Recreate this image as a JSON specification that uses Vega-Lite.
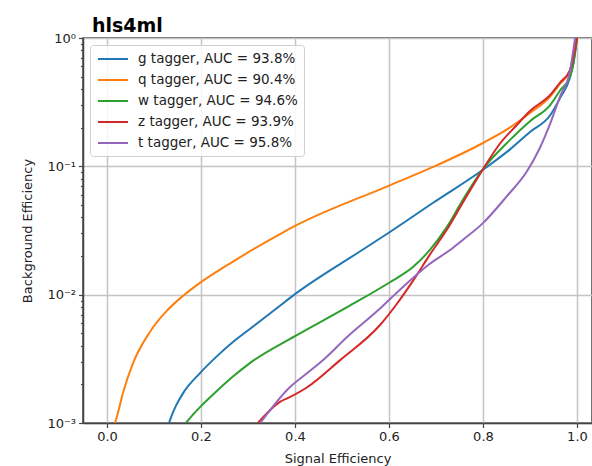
{
  "$schema": "https://vega.github.io/schema/vega-lite/v6.json",
  "autosize": {"type": "none"},
  "padding": {"left": 83, "top": 38, "right": 0, "bottom": 43},
  "width": 509,
  "height": 385,
  "background": "white",
  "title": {"text": "hls4ml", "anchor": "start", "frame": "group", "dx": 9, "dy": 27, "fontSize": 19, "fontWeight": "bold", "font": "DejaVu Sans", "color": "#000000", "baseline": "alphabetic", "offset": 8},
  "config": {
    "view": {"stroke": "#444444", "strokeWidth": 1.5},
    "axis": {"labelFont": "DejaVu Sans", "titleFont": "DejaVu Sans", "labelFontSize": 13, "titleFontSize": 13, "titleFontWeight": "normal", "labelColor": "#222222", "titleColor": "#222222", "domainColor": "#444444", "domainWidth": 1.5, "tickColor": "#444444", "tickWidth": 1.2, "gridColor": "#c4c4c4", "gridWidth": 1.5},
    "legend": {"orient": "top-left", "offset": 7, "fillColor": "rgba(255,255,255,0.85)", "strokeColor": "#d0d0d0", "cornerRadius": 3, "padding": 6, "labelFontSize": 13.5, "labelFont": "DejaVu Sans", "labelColor": "#222222", "symbolType": "M-0.86,0H3.43", "symbolSize": 196, "symbolStrokeWidth": 2, "rowPadding": 6, "labelOffset": 26}
  },
  "data": {"values": [
    {"tagger": "g tagger, AUC = 93.8%", "x": 0.132, "y": 0.001},
    {"tagger": "g tagger, AUC = 93.8%", "x": 0.14, "y": 0.0012},
    {"tagger": "g tagger, AUC = 93.8%", "x": 0.148, "y": 0.00139},
    {"tagger": "g tagger, AUC = 93.8%", "x": 0.162, "y": 0.00171},
    {"tagger": "g tagger, AUC = 93.8%", "x": 0.198, "y": 0.00245},
    {"tagger": "g tagger, AUC = 93.8%", "x": 0.232, "y": 0.00326},
    {"tagger": "g tagger, AUC = 93.8%", "x": 0.268, "y": 0.00427},
    {"tagger": "g tagger, AUC = 93.8%", "x": 0.304, "y": 0.0054},
    {"tagger": "g tagger, AUC = 93.8%", "x": 0.368, "y": 0.0082},
    {"tagger": "g tagger, AUC = 93.8%", "x": 0.4, "y": 0.0101},
    {"tagger": "g tagger, AUC = 93.8%", "x": 0.538, "y": 0.0217},
    {"tagger": "g tagger, AUC = 93.8%", "x": 0.602, "y": 0.0308},
    {"tagger": "g tagger, AUC = 93.8%", "x": 0.694, "y": 0.052},
    {"tagger": "g tagger, AUC = 93.8%", "x": 0.8, "y": 0.094},
    {"tagger": "g tagger, AUC = 93.8%", "x": 0.857, "y": 0.135},
    {"tagger": "g tagger, AUC = 93.8%", "x": 0.9, "y": 0.185},
    {"tagger": "g tagger, AUC = 93.8%", "x": 0.943, "y": 0.25},
    {"tagger": "g tagger, AUC = 93.8%", "x": 0.964, "y": 0.34},
    {"tagger": "g tagger, AUC = 93.8%", "x": 0.985, "y": 0.49},
    {"tagger": "g tagger, AUC = 93.8%", "x": 0.993, "y": 0.65},
    {"tagger": "g tagger, AUC = 93.8%", "x": 1.0, "y": 1.0},
    {"tagger": "q tagger, AUC = 90.4%", "x": 0.017, "y": 0.001},
    {"tagger": "q tagger, AUC = 90.4%", "x": 0.022, "y": 0.00115},
    {"tagger": "q tagger, AUC = 90.4%", "x": 0.034, "y": 0.00171},
    {"tagger": "q tagger, AUC = 90.4%", "x": 0.055, "y": 0.0029},
    {"tagger": "q tagger, AUC = 90.4%", "x": 0.091, "y": 0.0051},
    {"tagger": "q tagger, AUC = 90.4%", "x": 0.126, "y": 0.0074},
    {"tagger": "q tagger, AUC = 90.4%", "x": 0.162, "y": 0.0098},
    {"tagger": "q tagger, AUC = 90.4%", "x": 0.2, "y": 0.01253},
    {"tagger": "q tagger, AUC = 90.4%", "x": 0.268, "y": 0.0181},
    {"tagger": "q tagger, AUC = 90.4%", "x": 0.374, "y": 0.0305},
    {"tagger": "q tagger, AUC = 90.4%", "x": 0.4, "y": 0.0343},
    {"tagger": "q tagger, AUC = 90.4%", "x": 0.598, "y": 0.0702},
    {"tagger": "q tagger, AUC = 90.4%", "x": 0.694, "y": 0.0989},
    {"tagger": "q tagger, AUC = 90.4%", "x": 0.8, "y": 0.152},
    {"tagger": "q tagger, AUC = 90.4%", "x": 0.857, "y": 0.2},
    {"tagger": "q tagger, AUC = 90.4%", "x": 0.9, "y": 0.26},
    {"tagger": "q tagger, AUC = 90.4%", "x": 0.943, "y": 0.35},
    {"tagger": "q tagger, AUC = 90.4%", "x": 0.964, "y": 0.44},
    {"tagger": "q tagger, AUC = 90.4%", "x": 0.985, "y": 0.56},
    {"tagger": "q tagger, AUC = 90.4%", "x": 0.993, "y": 0.7},
    {"tagger": "q tagger, AUC = 90.4%", "x": 1.0, "y": 1.0},
    {"tagger": "w tagger, AUC = 94.6%", "x": 0.168, "y": 0.001},
    {"tagger": "w tagger, AUC = 94.6%", "x": 0.182, "y": 0.00115},
    {"tagger": "w tagger, AUC = 94.6%", "x": 0.198, "y": 0.00133},
    {"tagger": "w tagger, AUC = 94.6%", "x": 0.232, "y": 0.00175},
    {"tagger": "w tagger, AUC = 94.6%", "x": 0.268, "y": 0.0023},
    {"tagger": "w tagger, AUC = 94.6%", "x": 0.304, "y": 0.00293},
    {"tagger": "w tagger, AUC = 94.6%", "x": 0.4, "y": 0.00475},
    {"tagger": "w tagger, AUC = 94.6%", "x": 0.511, "y": 0.008},
    {"tagger": "w tagger, AUC = 94.6%", "x": 0.602, "y": 0.0125},
    {"tagger": "w tagger, AUC = 94.6%", "x": 0.651, "y": 0.0164},
    {"tagger": "w tagger, AUC = 94.6%", "x": 0.687, "y": 0.0223},
    {"tagger": "w tagger, AUC = 94.6%", "x": 0.723, "y": 0.0336},
    {"tagger": "w tagger, AUC = 94.6%", "x": 0.757, "y": 0.0546},
    {"tagger": "w tagger, AUC = 94.6%", "x": 0.8, "y": 0.095},
    {"tagger": "w tagger, AUC = 94.6%", "x": 0.857, "y": 0.16},
    {"tagger": "w tagger, AUC = 94.6%", "x": 0.9, "y": 0.225},
    {"tagger": "w tagger, AUC = 94.6%", "x": 0.943, "y": 0.3},
    {"tagger": "w tagger, AUC = 94.6%", "x": 0.964, "y": 0.39},
    {"tagger": "w tagger, AUC = 94.6%", "x": 0.985, "y": 0.5},
    {"tagger": "w tagger, AUC = 94.6%", "x": 0.993, "y": 0.65},
    {"tagger": "w tagger, AUC = 94.6%", "x": 1.0, "y": 1.0},
    {"tagger": "z tagger, AUC = 93.9%", "x": 0.321, "y": 0.001},
    {"tagger": "z tagger, AUC = 93.9%", "x": 0.343, "y": 0.00122},
    {"tagger": "z tagger, AUC = 93.9%", "x": 0.368, "y": 0.00146},
    {"tagger": "z tagger, AUC = 93.9%", "x": 0.389, "y": 0.00159},
    {"tagger": "z tagger, AUC = 93.9%", "x": 0.426, "y": 0.0019},
    {"tagger": "z tagger, AUC = 93.9%", "x": 0.496, "y": 0.00309},
    {"tagger": "z tagger, AUC = 93.9%", "x": 0.581, "y": 0.0058},
    {"tagger": "z tagger, AUC = 93.9%", "x": 0.617, "y": 0.0085},
    {"tagger": "z tagger, AUC = 93.9%", "x": 0.651, "y": 0.0128},
    {"tagger": "z tagger, AUC = 93.9%", "x": 0.687, "y": 0.0205},
    {"tagger": "z tagger, AUC = 93.9%", "x": 0.723, "y": 0.032},
    {"tagger": "z tagger, AUC = 93.9%", "x": 0.757, "y": 0.052},
    {"tagger": "z tagger, AUC = 93.9%", "x": 0.8, "y": 0.095},
    {"tagger": "z tagger, AUC = 93.9%", "x": 0.836, "y": 0.15},
    {"tagger": "z tagger, AUC = 93.9%", "x": 0.872, "y": 0.21},
    {"tagger": "z tagger, AUC = 93.9%", "x": 0.9, "y": 0.27},
    {"tagger": "z tagger, AUC = 93.9%", "x": 0.943, "y": 0.36},
    {"tagger": "z tagger, AUC = 93.9%", "x": 0.964, "y": 0.45},
    {"tagger": "z tagger, AUC = 93.9%", "x": 0.985, "y": 0.56},
    {"tagger": "z tagger, AUC = 93.9%", "x": 0.993, "y": 0.72},
    {"tagger": "z tagger, AUC = 93.9%", "x": 1.0, "y": 1.0},
    {"tagger": "t tagger, AUC = 95.8%", "x": 0.326, "y": 0.001},
    {"tagger": "t tagger, AUC = 95.8%", "x": 0.389, "y": 0.0019},
    {"tagger": "t tagger, AUC = 95.8%", "x": 0.426, "y": 0.00245},
    {"tagger": "t tagger, AUC = 95.8%", "x": 0.46, "y": 0.0031},
    {"tagger": "t tagger, AUC = 95.8%", "x": 0.511, "y": 0.00468},
    {"tagger": "t tagger, AUC = 95.8%", "x": 0.581, "y": 0.0078},
    {"tagger": "t tagger, AUC = 95.8%", "x": 0.617, "y": 0.0104},
    {"tagger": "t tagger, AUC = 95.8%", "x": 0.651, "y": 0.0135},
    {"tagger": "t tagger, AUC = 95.8%", "x": 0.687, "y": 0.0174},
    {"tagger": "t tagger, AUC = 95.8%", "x": 0.73, "y": 0.0223},
    {"tagger": "t tagger, AUC = 95.8%", "x": 0.757, "y": 0.0267},
    {"tagger": "t tagger, AUC = 95.8%", "x": 0.8, "y": 0.0361},
    {"tagger": "t tagger, AUC = 95.8%", "x": 0.85, "y": 0.058},
    {"tagger": "t tagger, AUC = 95.8%", "x": 0.894, "y": 0.0919},
    {"tagger": "t tagger, AUC = 95.8%", "x": 0.921, "y": 0.139},
    {"tagger": "t tagger, AUC = 95.8%", "x": 0.943, "y": 0.215},
    {"tagger": "t tagger, AUC = 95.8%", "x": 0.964, "y": 0.35},
    {"tagger": "t tagger, AUC = 95.8%", "x": 0.985, "y": 0.55},
    {"tagger": "t tagger, AUC = 95.8%", "x": 0.996, "y": 1.0}
  ]},
  "mark": {"type": "line", "strokeWidth": 2, "clip": true, "interpolate": "monotone"},
  "encoding": {
    "x": {"field": "x", "type": "quantitative", "scale": {"domain": [-0.051, 1.032], "nice": false, "zero": false},
      "axis": {"title": "Signal Efficiency", "values": [0, 0.2, 0.4, 0.6, 0.8, 1.0], "format": ".1f", "tickSize": 4.5, "labelPadding": 3, "titlePadding": 9, "grid": true}},
    "y": {"field": "y", "type": "quantitative", "scale": {"type": "log", "domain": [0.001, 1], "nice": false},
      "axis": {"title": "Background Efficiency", "values": [0.001, 0.002, 0.003, 0.004, 0.005, 0.006, 0.007, 0.008, 0.009, 0.01, 0.02, 0.03, 0.04, 0.05, 0.06, 0.07, 0.08, 0.09, 0.1, 0.2, 0.3, 0.4, 0.5, 0.6, 0.7, 0.8, 0.9, 1],
        "labelExpr": "abs(datum.value-1)<1e-9 ? '10⁰' : abs(datum.value-0.1)<1e-9 ? '10⁻¹' : abs(datum.value-0.01)<1e-9 ? '10⁻²' : abs(datum.value-0.001)<1e-9 ? '10⁻³' : ''",
        "gridOpacity": {"condition": {"test": "abs(log(datum.value)/LN10 - round(log(datum.value)/LN10)) < 0.001", "value": 1}, "value": 0},
        "tickSize": {"condition": {"test": "abs(log(datum.value)/LN10 - round(log(datum.value)/LN10)) < 0.001", "value": 4.5}, "value": 2.5},
        "labelPadding": 3, "titlePadding": 12, "grid": true}},
    "color": {"field": "tagger", "type": "nominal",
      "scale": {"domain": ["g tagger, AUC = 93.8%", "q tagger, AUC = 90.4%", "w tagger, AUC = 94.6%", "z tagger, AUC = 93.9%", "t tagger, AUC = 95.8%"], "range": ["#1f77b4", "#ff7f0e", "#2ca02c", "#d62728", "#9467bd"]},
      "legend": {"title": null}}
  }
}
